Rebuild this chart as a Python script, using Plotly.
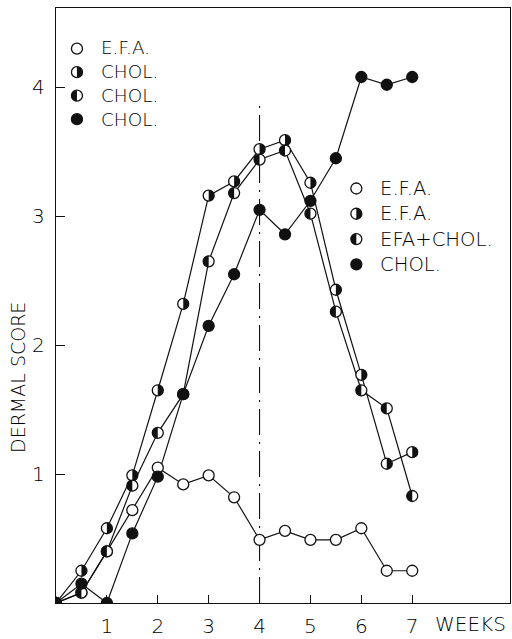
import plotly.graph_objects as go

# ---- data -------------------------------------------------------------
WEEKS = [0, 0.5, 1, 1.5, 2, 2.5, 3, 3.5, 4, 4.5, 5, 5.5, 6, 6.5, 7]

EFA_THEN_EFA = [0, 0.08, 0.40, 0.72, 1.05, 0.92, 0.99, 0.82, 0.49, 0.56, 0.49, 0.49, 0.58, 0.25, 0.25]
CHOL_THEN_EFA = [0, 0.25, 0.58, 0.99, 1.65, 2.32, 3.16, 3.27, 3.52, 3.59, 3.26, 2.43, 1.77, 1.08, 1.17]
CHOL_THEN_MIX = [0, 0.08, 0.40, 0.91, 1.32, 1.62, 2.65, 3.18, 3.44, 3.51, 3.02, 2.26, 1.65, 1.51, 0.83]
CHOL_THEN_CHOL = [0, 0.15, 0, 0.54, 0.98, 1.62, 2.15, 2.55, 3.05, 2.86, 3.12, 3.45, 4.08, 4.02, 4.08]

SERIES = [EFA_THEN_EFA, CHOL_THEN_EFA, CHOL_THEN_MIX, CHOL_THEN_CHOL]
FILLS = ["open", "right", "left", "full"]

LEGEND_BEFORE = ["E.F.A.", "CHOL.", "CHOL.", "CHOL."]
LEGEND_AFTER = ["E.F.A.", "E.F.A.", "EFA+CHOL.", "CHOL."]

X_TICKS = [1, 2, 3, 4, 5, 6, 7]
Y_TICKS = [1, 2, 3, 4]
SWITCH_WEEK = 4
SWITCH_TOP = 3.9

# ---- layout geometry (pixels) ------------------------------------------
W, H = 512, 639
M_L, M_R, M_T, M_B = 56, 1, 8, 31
PLOT_W = W - M_L - M_R
PLOT_H = H - M_T - M_B
PX_PER_WEEK = 51
PX_PER_UNIT = 130

R = 5.5          # marker radius
INK = "#111111"
TEXT_INK = "#000000"
FAMILY = "DejaVu Sans"


def font(size):
    return dict(family=FAMILY, size=size, color=TEXT_INK, weight=300)


def paper_x(px):
    return (px - M_L) / PLOT_W


def paper_y(py):
    return (H - M_B - py) / PLOT_H


def half_path(side, r):
    k = 0.5523 * r
    s = 1 if side == "right" else -1
    return (f"M0,{r} C{s*k},{r} {s*r},{k} {s*r},0 "
            f"C{s*r},{-k} {s*k},{-r} 0,{-r} Z")


fig = go.Figure()

# connecting lines first, so every marker sits on top of them
for vals in SERIES:
    fig.add_trace(go.Scatter(x=WEEKS, y=vals, mode="lines",
                             line=dict(color=INK, width=1.2),
                             showlegend=False, hoverinfo="skip"))

for vals, fill in zip(SERIES, FILLS):
    fig.add_trace(go.Scatter(
        x=WEEKS, y=vals, mode="markers", showlegend=False,
        marker=dict(size=2 * R, symbol="circle",
                    color=INK if fill == "full" else "white",
                    line=dict(color=INK, width=1.3))))

shapes = []

# half-filled markers
for vals, fill in zip(SERIES, FILLS):
    if fill in ("left", "right"):
        for w, v in zip(WEEKS, vals):
            shapes.append(dict(type="path", xref="x", yref="y",
                               xsizemode="pixel", ysizemode="pixel",
                               xanchor=w, yanchor=v,
                               path=half_path(fill, R),
                               fillcolor=INK, line=dict(width=0)))

# diet change at week 4
shapes.append(dict(type="line", xref="x", yref="y",
                   x0=SWITCH_WEEK, x1=SWITCH_WEEK, y0=0, y1=SWITCH_TOP,
                   line=dict(color=INK, width=1.1, dash="26px,7px,2px,7px"),
                   layer="below"))

annotations = []


def legend_block(labels, mx, my_first, step, tx, size):
    for i, fill in enumerate(FILLS):
        xa, ya = paper_x(mx), paper_y(my_first + i * step)
        shapes.append(dict(type="circle", xref="paper", yref="paper",
                           xsizemode="pixel", ysizemode="pixel",
                           xanchor=xa, yanchor=ya,
                           x0=-R, x1=R, y0=-R, y1=R,
                           fillcolor=INK if fill == "full" else "white",
                           line=dict(color=INK, width=1.3)))
        if fill in ("left", "right"):
            shapes.append(dict(type="path", xref="paper", yref="paper",
                               xsizemode="pixel", ysizemode="pixel",
                               xanchor=xa, yanchor=ya,
                               path=half_path(fill, R),
                               fillcolor=INK, line=dict(width=0)))
    # one multi-line block keeps the rows evenly spaced
    mid = my_first + 1.5 * step
    annotations.append(dict(text="<br>".join(labels), xref="paper",
                            yref="paper", x=paper_x(tx), y=paper_y(mid),
                            xanchor="left", yanchor="middle", align="left",
                            showarrow=False, font=font(size)))


legend_block(LEGEND_BEFORE, 77, 49, 23.7, 99, 18.4)
legend_block(LEGEND_AFTER, 357, 190, 25.5, 379, 19.6)

annotations.append(dict(text="WEEKS", xref="paper", yref="paper",
                        x=paper_x(434), y=paper_y(629), xanchor="left",
                        yanchor="middle", showarrow=False, font=font(20)))
annotations.append(dict(text="DERMAL SCORE", xref="paper", yref="paper",
                        x=paper_x(18), y=paper_y(381), textangle=-90,
                        xanchor="center", yanchor="middle",
                        showarrow=False, font=font(19)))

axis_common = dict(showgrid=False, zeroline=False, showline=True,
                   linecolor=INK, linewidth=1.3, mirror=True,
                   ticks="inside", tickcolor=INK, tickwidth=1.2,
                   tickfont=font(20))

fig.update_layout(
    width=W, height=H,
    margin=dict(l=M_L, r=M_R, t=M_T, b=M_B, pad=0),
    paper_bgcolor="white", plot_bgcolor="white",
    xaxis=dict(range=[0, PLOT_W / PX_PER_WEEK], tickvals=X_TICKS,
               ticklen=8, ticklabelstandoff=5, **axis_common),
    yaxis=dict(range=[0, PLOT_H / PX_PER_UNIT], tickvals=Y_TICKS,
               ticklen=9, ticklabelstandoff=6, **axis_common),
    shapes=shapes, annotations=annotations, showlegend=False,
)

fig.write_html("out.html")
